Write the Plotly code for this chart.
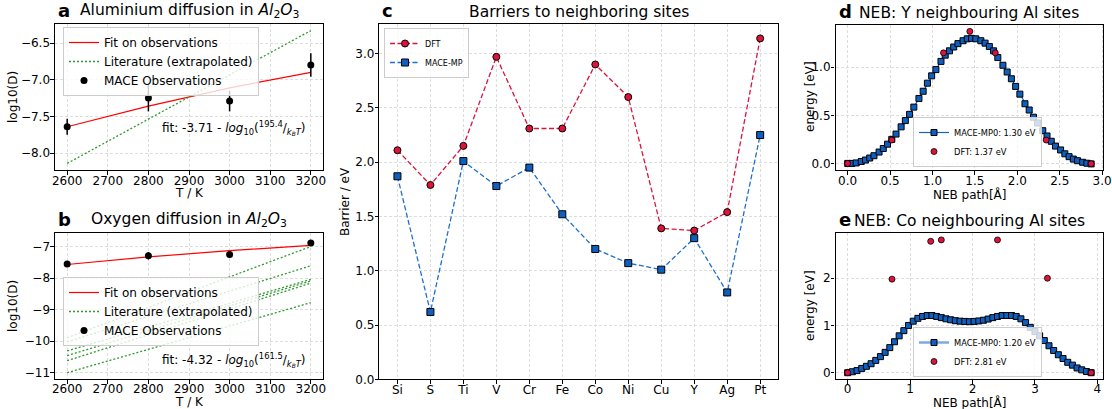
import plotly.graph_objects as go

W, H = 1112, 409

# ---------------- data ----------------
# Panel a: Aluminium diffusion
T_obs = [2600, 2800, 3000, 3200]
al_obs = [-7.64, -7.25, -7.29, -6.80]
al_err = [0.11, 0.18, 0.14, 0.16]
al_fit = [-7.64, -7.36, -7.11, -6.90]
lit_T = [2600, 3200]
al_lit = [-8.14, -6.33]

# Panel b: Oxygen diffusion
o_obs = [-7.55, -7.29, -7.25, -6.89]
o_err = [0.05, 0.12, 0.10, 0.07]
o_fit = [-7.57, -7.33, -7.13, -6.96]
o_lit_start = [-9.89, -10.02, -10.31, -10.46, -10.62, -11.00]
o_lit_end = [-7.00, -7.61, -8.04, -8.09, -8.16, -8.78]

# Panel c: barriers
elements = ["Si", "S", "Ti", "V", "Cr", "Fe", "Co", "Ni", "Cu", "Y", "Ag", "Pt"]
dft_barrier = [2.11, 1.79, 2.15, 2.97, 2.31, 2.31, 2.90, 2.60, 1.39, 1.37, 1.54, 3.14]
mace_barrier = [1.87, 0.62, 2.01, 1.78, 1.95, 1.52, 1.20, 1.07, 1.01, 1.30, 0.80, 2.25]

# Panel d: NEB Y
d_mace_x = [0.00, 0.05, 0.10, 0.16, 0.21, 0.26, 0.31, 0.37, 0.42, 0.47, 0.52, 0.57, 0.63, 0.68,
            0.73, 0.78, 0.84, 0.89, 0.94, 0.99, 1.04, 1.10, 1.15, 1.20, 1.25, 1.30, 1.36, 1.41,
            1.46, 1.51, 1.57, 1.62, 1.67, 1.72, 1.77, 1.83, 1.88, 1.93, 1.98, 2.03, 2.09, 2.14,
            2.19, 2.24, 2.30, 2.35, 2.40, 2.45, 2.51, 2.56, 2.61, 2.66, 2.71, 2.77, 2.82, 2.87]
d_mace_y = [0.00, 0.00, 0.005, 0.02, 0.035, 0.056, 0.08, 0.118, 0.155, 0.20, 0.25, 0.305, 0.38, 0.445,
            0.51, 0.585, 0.675, 0.75, 0.834, 0.91, 0.975, 1.06, 1.125, 1.17, 1.21, 1.245, 1.275, 1.295,
            1.30, 1.295, 1.275, 1.25, 1.215, 1.17, 1.10, 1.02, 0.95, 0.88, 0.80, 0.72, 0.62, 0.555,
            0.48, 0.42, 0.34, 0.285, 0.23, 0.18, 0.14, 0.10, 0.07, 0.045, 0.028, 0.012, 0.002, -0.005]
d_dft_x = [0.00, 0.52, 1.13, 1.44, 1.74, 2.34, 2.87]
d_dft_y = [0.00, 0.243, 1.149, 1.372, 1.149, 0.243, -0.003]

# Panel e: NEB Co
e_mace_x = [0.00, 0.075, 0.15, 0.225, 0.30, 0.375, 0.45, 0.525, 0.60, 0.675, 0.75, 0.825, 0.90, 0.975,
            1.05, 1.125, 1.20, 1.275, 1.35, 1.425, 1.50, 1.575, 1.65, 1.725, 1.80, 1.875, 1.95, 2.025,
            2.10, 2.175, 2.25, 2.325, 2.40, 2.475, 2.55, 2.625, 2.70, 2.775, 2.85, 2.925, 3.00, 3.075,
            3.15, 3.225, 3.30, 3.375, 3.45, 3.525, 3.60, 3.675, 3.75, 3.825, 3.90]
e_mace_y = [0.00, 0.02, 0.045, 0.09, 0.135, 0.19, 0.26, 0.34, 0.43, 0.53, 0.655, 0.78, 0.89, 1.00,
            1.09, 1.15, 1.19, 1.21, 1.21, 1.19, 1.165, 1.14, 1.12, 1.10, 1.09, 1.085, 1.08, 1.085,
            1.095, 1.11, 1.135, 1.165, 1.19, 1.21, 1.21, 1.21, 1.19, 1.14, 1.06, 0.96, 0.87, 0.78,
            0.68, 0.57, 0.47, 0.38, 0.30, 0.22, 0.16, 0.10, 0.06, 0.025, 0.00]
e_dft_x = [0.00, 0.71, 1.33, 1.50, 2.40, 3.20, 3.90]
e_dft_y = [0.00, 1.98, 2.78, 2.81, 2.81, 2.00, 0.00]

# ---------------- styles ----------------
RED = "#ff0000"
GREEN = "#2e9a2e"
CRIMSON = "#dc143c"
BLUE = "#1565c0"
BLUE_FILL = "#0f5fbf"
FONT = "DejaVu Sans"
MINUS = "\u2212"

fig = go.Figure()

# Panel a
fig.add_trace(go.Scatter(x=T_obs, y=al_fit, mode="lines", line=dict(color=RED, width=1.2),
                         name="Fit on observations", xaxis="x", yaxis="y", legend="legend"))
fig.add_trace(go.Scatter(x=lit_T, y=al_lit, mode="lines", line=dict(color=GREEN, width=1.3, dash="2px,2px"),
                         name="Literature (extrapolated)", xaxis="x", yaxis="y", legend="legend"))
fig.add_trace(go.Scatter(x=T_obs, y=al_obs, mode="markers",
                         marker=dict(color="black", size=7),
                         error_y=dict(type="data", array=al_err, color="black", thickness=1.5, width=0),
                         name="MACE Observations", xaxis="x", yaxis="y", legend="legend"))

# Panel b
fig.add_trace(go.Scatter(x=T_obs, y=o_fit, mode="lines", line=dict(color=RED, width=1.2),
                         name="Fit on observations", xaxis="x2", yaxis="y2", legend="legend2"))
for i, (s, e) in enumerate(zip(o_lit_start, o_lit_end)):
    fig.add_trace(go.Scatter(x=lit_T, y=[s, e], mode="lines",
                             line=dict(color=GREEN, width=1.3, dash="2px,2px"),
                             name="Literature (extrapolated)", showlegend=(i == 0),
                             xaxis="x2", yaxis="y2", legend="legend2"))
fig.add_trace(go.Scatter(x=T_obs, y=o_obs, mode="markers",
                         marker=dict(color="black", size=7),
                         error_y=dict(type="data", array=o_err, color="black", thickness=1.5, width=0),
                         name="MACE Observations", xaxis="x2", yaxis="y2", legend="legend2"))

# Panel c
fig.add_trace(go.Scatter(x=elements, y=dft_barrier, mode="lines+markers",
                         line=dict(color=CRIMSON, width=1.3, dash="5px,2.5px"),
                         marker=dict(symbol="circle", size=7, color=CRIMSON, line=dict(color="black", width=1)),
                         name="DFT", xaxis="x3", yaxis="y3", legend="legend3"))
fig.add_trace(go.Scatter(x=elements, y=mace_barrier, mode="lines+markers",
                         line=dict(color="#1f6fcf", width=1.3, dash="5px,2.5px"),
                         marker=dict(symbol="square", size=7, color=BLUE_FILL, line=dict(color="black", width=1)),
                         name="MACE-MP", xaxis="x3", yaxis="y3", legend="legend3"))

# Panel d
fig.add_trace(go.Scatter(x=d_mace_x, y=d_mace_y, mode="lines+markers",
                         line=dict(color=BLUE, width=1.2),
                         marker=dict(symbol="square", size=6, color=BLUE_FILL, line=dict(color="black", width=1)),
                         name="MACE-MP0: 1.30 eV", xaxis="x4", yaxis="y4", legend="legend4"))
fig.add_trace(go.Scatter(x=d_dft_x, y=d_dft_y, mode="markers",
                         marker=dict(symbol="circle", size=6, color=CRIMSON, line=dict(color="black", width=0.8)),
                         name="DFT: 1.37 eV", xaxis="x4", yaxis="y4", legend="legend4"))

# Panel e
fig.add_trace(go.Scatter(x=e_mace_x, y=e_mace_y, mode="lines+markers",
                         line=dict(color="rgba(90,150,215,0.8)", width=2.5),
                         marker=dict(symbol="square", size=6, color=BLUE_FILL, line=dict(color="black", width=1)),
                         name="MACE-MP0: 1.20 eV", xaxis="x5", yaxis="y5", legend="legend5"))
fig.add_trace(go.Scatter(x=e_dft_x, y=e_dft_y, mode="markers",
                         marker=dict(symbol="circle", size=6, color=CRIMSON, line=dict(color="black", width=0.8)),
                         name="DFT: 2.81 eV", xaxis="x5", yaxis="y5", legend="legend5"))

# ---------------- layout ----------------
def fx(p):
    return p / W


def fy(p):
    return 1 - p / H


boxes = {
    "a": (55, 323, 24, 170),
    "b": (55, 323, 233.3, 379.3),
    "c": (379.3, 778.3, 24.3, 379.3),
    "d": (835.5, 1103.3, 25, 170),
    "e": (835.5, 1103.3, 233.3, 379.3),
}

ax_common = dict(showline=True, linecolor="black", linewidth=1.1, mirror=True,
                 ticks="outside", ticklen=3.5, tickwidth=1, tickcolor="black",
                 showgrid=True, gridcolor="#dddddd", griddash="3px,2px", gridwidth=0.8,
                 zeroline=False, automargin=False, ticklabelstandoff=-2,
                 tickfont=dict(family=FONT, size=12, color="black"))
x_common = dict(ax_common, ticklabelstandoff=-4)
x_bottom = dict(ax_common, ticklabelstandoff=-5)


def xdom(k):
    b = boxes[k]
    return [fx(b[0]), fx(b[1])]


def ydom(k):
    b = boxes[k]
    return [fy(b[3]), fy(b[2])]


T_ticks = [2600, 2700, 2800, 2900, 3000, 3100, 3200]

layout = dict(
    width=W, height=H, margin=dict(l=0, r=0, t=0, b=0),
    paper_bgcolor="white", plot_bgcolor="white",
    font=dict(family=FONT, color="black"),
    xaxis=dict(x_common, domain=xdom("a"), anchor="y", range=[2570, 3230], tickvals=T_ticks),
    yaxis=dict(ax_common, domain=ydom("a"), anchor="x", range=[-8.23, -6.24],
               tickvals=[-8.0, -7.5, -7.0, -6.5],
               ticktext=[MINUS + "8.0", MINUS + "7.5", MINUS + "7.0", MINUS + "6.5"]),
    xaxis2=dict(x_bottom, domain=xdom("b"), anchor="y2", range=[2570, 3230], tickvals=T_ticks),
    yaxis2=dict(ax_common, domain=ydom("b"), anchor="x2", range=[-11.21, -6.58],
                tickvals=[-11, -10, -9, -8, -7],
                ticktext=[MINUS + "11", MINUS + "10", MINUS + "9", MINUS + "8", MINUS + "7"]),
    xaxis3=dict(x_common, domain=xdom("c"), anchor="y3", range=[-0.55, 11.55], type="category"),
    yaxis3=dict(ax_common, domain=ydom("c"), anchor="x3", range=[0, 3.27],
                tickvals=[0, 0.5, 1.0, 1.5, 2.0, 2.5, 3.0], tickformat=".1f"),
    xaxis4=dict(x_common, domain=xdom("d"), anchor="y4", range=[-0.1435, 3.0135],
                tickvals=[0, 0.5, 1.0, 1.5, 2.0, 2.5, 3.0], tickformat=".1f"),
    yaxis4=dict(ax_common, domain=ydom("d"), anchor="x4", range=[-0.0685, 1.4385],
                tickvals=[0, 0.5, 1.0], tickformat=".1f"),
    xaxis5=dict(x_bottom, domain=xdom("e"), anchor="y5", range=[-0.195, 4.095],
                tickvals=[0, 1, 2, 3, 4]),
    yaxis5=dict(ax_common, domain=ydom("e"), anchor="x5", range=[-0.14, 2.95],
                tickvals=[0, 1, 2]),
)

legend_common = dict(bgcolor="rgba(255,255,255,0.8)", bordercolor="#cccccc", borderwidth=1,
                     xanchor="left", tracegroupgap=0)
layout["legend"] = dict(legend_common, x=fx(63), y=fy(27), yanchor="top", font=dict(family=FONT, size=12))
layout["legend2"] = dict(legend_common, x=fx(63), y=fy(277), yanchor="top", font=dict(family=FONT, size=12))
layout["legend3"] = dict(legend_common, x=fx(384), y=fy(28), yanchor="top", font=dict(family=FONT, size=8))
layout["legend4"] = dict(legend_common, x=fx(913), y=fy(167), yanchor="bottom", font=dict(family=FONT, size=8.3))
layout["legend5"] = dict(legend_common, x=fx(913), y=fy(377), yanchor="bottom", font=dict(family=FONT, size=8.3))

fig.update_layout(**layout)

annotations = []


def add_text(text, px, py, size=12, xanchor="center", yanchor="middle", angle=0):
    annotations.append(dict(text=text, x=fx(px), y=fy(py), xref="paper", yref="paper",
                            xanchor=xanchor, yanchor=yanchor, textangle=angle, showarrow=False,
                            font=dict(family=FONT, size=size, color="black")))


titles = {
    "a": "Aluminium diffusion in <i>Al</i><sub>2</sub><i>O</i><sub>3</sub>",
    "b": "Oxygen diffusion in <i>Al</i><sub>2</sub><i>O</i><sub>3</sub>",
    "c": "Barriers to neighboring sites",
    "d": "NEB: Y neighbouring Al sites",
    "e": "NEB: Co neighbouring Al sites",
}
for k, t in titles.items():
    b = boxes[k]
    add_text(t, (b[0] + b[1]) / 2, b[2] - 1, size=15.5, yanchor="bottom")
    add_text("<b>%s</b>" % k, b[0] + 1, b[2] - 1, size=18, xanchor="left", yanchor="bottom")

# axis titles
add_text("T / K", 189, 193)
add_text("T / K", 189, 402)
add_text("log10(D)", 13, 97, angle=-90)
add_text("log10(D)", 13, 306, angle=-90)
add_text("Barrier / eV", 345, 202, angle=-90)
add_text("NEB path[Å]", 969, 194)
add_text("NEB path[Å]", 969, 402)
add_text("energy [eV]", 810, 97, angle=-90)
add_text("energy [eV]", 810, 306, angle=-90)

add_text("fit: -3.71 - <i>log</i><sub>10</sub>(<sup>195.4</sup>/<sub><i>k<sub>B</sub>T</i></sub>)",
         160, 128, xanchor="left")
add_text("fit: -4.32 - <i>log</i><sub>10</sub>(<sup>161.5</sup>/<sub><i>k<sub>B</sub>T</i></sub>)",
         160, 360, xanchor="left")

fig.update_layout(annotations=annotations)

fig.write_html("out.html")
